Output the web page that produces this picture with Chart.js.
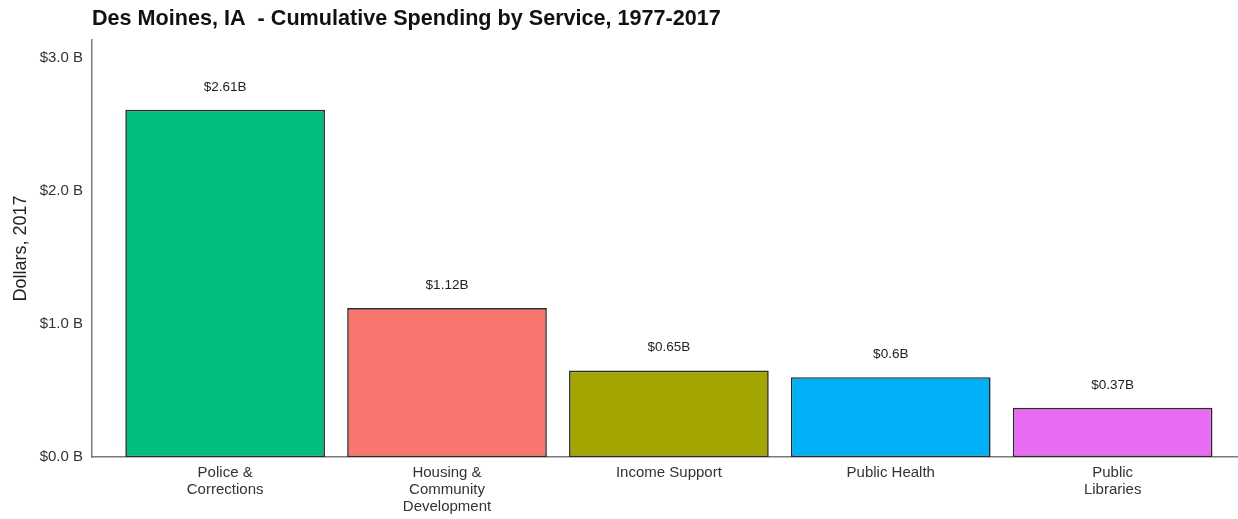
<!DOCTYPE html>
<html>
<head>
<meta charset="utf-8">
<script src="https://cdn.jsdelivr.net/npm/chart.js@4/dist/chart.umd.min.js"></script>
<style>
  html, body { margin: 0; padding: 0; background: #fff; }
  #wrap { width: 1238px; height: 519px; position: relative; }
</style>
</head>
<body>
<div id="wrap"><canvas id="spendChart"></canvas></div>
<script>
// Dữ liệu biểu đồ
const categories = [
    ['Police &', 'Corrections'],
    ['Housing &', 'Community', 'Development'],
    ['Income Support'],
    ['Public Health'],
    ['Public', 'Libraries']
];
const spending = [2.61, 1.12, 0.65, 0.60, 0.37];      // tỷ USD
const valueLabels = ['$2.61B', '$1.12B', '$0.65B', '$0.6B', '$0.37B'];
const barColors = ['#00BF7D', '#F8766D', '#A3A500', '#00B0F6', '#E76BF3'];
const yTicks = [0, 1, 2, 3];

const FONT = "'Liberation Sans', Arial, sans-serif";

// Nhãn giá trị phía trên mỗi cột
const valueLabelPlugin = {
    id: 'valueLabels',
    afterDatasetsDraw(chart) {
        const ctx = chart.ctx;
        const meta = chart.getDatasetMeta(0);
        ctx.save();
        ctx.font = '13.5px ' + FONT;
        ctx.fillStyle = '#222';
        ctx.textAlign = 'center';
        ctx.textBaseline = 'middle';
        meta.data.forEach((bar, i) => {
            ctx.fillText(valueLabels[i], bar.x, bar.y - 23);
        });
        ctx.restore();
    }
};

new Chart(document.getElementById('spendChart'), {
    type: 'bar',
    data: {
        datasets: [{
            data: spending.map((v, i) => ({ x: i, y: v })),
            backgroundColor: barColors,
            borderColor: '#2a2a2a',
            borderWidth: 1.6,
            borderSkipped: false,
            barPercentage: 0.9,
            categoryPercentage: 1.0
        }]
    },
    options: {
        responsive: true,
        maintainAspectRatio: false,
        animation: false,
        layout: { padding: { left: 0, right: 0, top: 0, bottom: 0 } },
        plugins: {
            legend: { display: false },
            tooltip: { enabled: false },
            title: {
                display: true,
                text: 'Des Moines, IA  - Cumulative Spending by Service, 1977-2017',
                align: 'start',
                fullSize: false,
                color: '#111',
                font: { family: FONT, size: 21.6, weight: 'bold' },
                padding: { top: 6, bottom: 8.1 }
            }
        },
        scales: {
            x: {
                type: 'linear',
                offset: false,
                min: -0.6,
                max: 4.565,
                grid: { display: false, drawTicks: false },
                border: { display: true, color: '#7a7a7a', width: 1.5 },
                afterBuildTicks: (scale) => {
                    scale.ticks = categories.map((c, i) => ({ value: i }));
                },
                afterFit: (scale) => { scale.height = 62; },
                ticks: {
                    padding: 7,
                    autoSkip: false,
                    maxRotation: 0,
                    color: '#333',
                    font: { family: FONT, size: 15, lineHeight: 1.13 },
                    callback: (v) => categories[v]
                }
            },
            y: {
                min: 0,
                max: 3.135,
                grid: { display: false, drawTicks: false },
                border: { display: true, color: '#7a7a7a', width: 1.5 },
                afterBuildTicks: (scale) => {
                    scale.ticks = yTicks.map(v => ({ value: v }));
                },
                afterFit: (scale) => { scale.width = 92; },
                ticks: {
                    padding: 9,
                    color: '#333',
                    font: { family: FONT, size: 15 },
                    callback: (v) => '$' + v.toFixed(1) + ' B'
                },
                title: {
                    display: true,
                    text: 'Dollars, 2017',
                    color: '#222',
                    font: { family: FONT, size: 18 },
                    padding: { top: 10, bottom: 0 }
                }
            }
        }
    },
    plugins: [valueLabelPlugin]
});
</script>
</body>
</html>
